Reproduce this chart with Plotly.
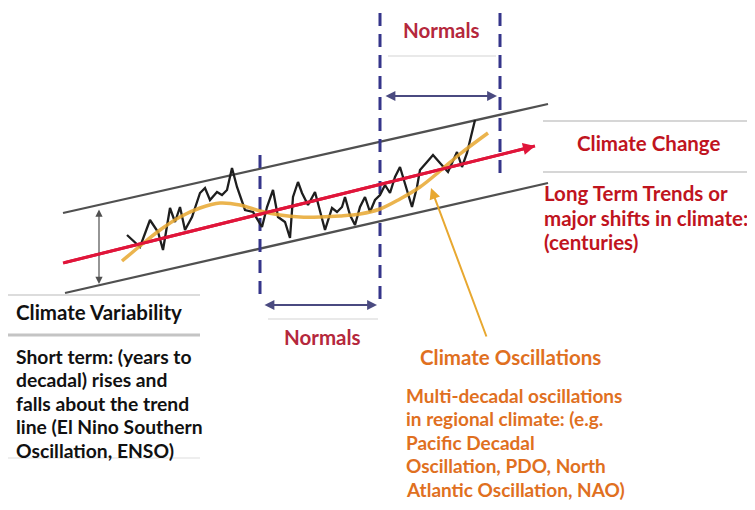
import plotly.graph_objects as go

# ---- data (diagram units: x = time, y = value on the canvas scale, down is lower) ----
obs_x = [127, 140, 150, 158, 163, 170, 175, 180, 185, 192, 200, 205, 210, 217, 222, 227, 232, 237, 245, 253,
         262, 267, 273, 278, 285, 290, 293, 298, 302, 308, 315, 320, 325, 332, 337, 342, 345, 350, 355, 360,
         365, 370, 375, 380, 385, 390, 395, 400, 405, 412, 417, 420, 427, 433, 440, 448, 457, 462, 467, 472, 475]
obs_y = [235, 247, 220, 232, 250, 208, 222, 207, 230, 217, 193, 188, 200, 192, 195, 190, 168, 187, 210, 212,
         227, 207, 190, 217, 222, 238, 197, 182, 193, 205, 192, 210, 230, 208, 212, 207, 197, 215, 225, 207,
         197, 212, 200, 195, 185, 193, 177, 167, 183, 207, 187, 170, 162, 155, 163, 172, 152, 167, 153, 132, 120]

osc_x = [122, 140, 160, 180, 200, 220, 240, 260, 280, 300, 320, 340, 360, 380, 400, 420, 440, 460, 488]
osc_y = [261, 246, 230, 217, 208, 203, 205, 211, 215, 217, 217, 216, 214, 209, 199, 187, 171, 154, 133]

trend_x = [63, 535]
trend_y = [263, 146]

upper_x = [63, 548]
upper_y = [213, 104]
lower_x = [65, 548]
lower_y = [293, 183]

normals_x = [260, 380, 500]

GRAY = "#505050"
BLUE = "#35358a"
RED = "#e0153a"
ORANGE = "#e8a830"
DARKRED = "#b5283c"
CC_RED = "#c0141e"
OR_TXT = "#e0701f"
FONT = "Lato"
OFF = 8  # page body margin compensation

fig = go.Figure()

fig.add_trace(go.Scatter(x=upper_x, y=upper_y, mode="lines", line=dict(color=GRAY, width=2.3), hoverinfo="skip"))
fig.add_trace(go.Scatter(x=lower_x, y=lower_y, mode="lines", line=dict(color=GRAY, width=2.3), hoverinfo="skip"))

fig.add_trace(go.Scatter(x=[normals_x[0]] * 2, y=[155, 302], mode="lines",
                         line=dict(color=BLUE, width=3, dash="13px,8px"), hoverinfo="skip"))
fig.add_trace(go.Scatter(x=[normals_x[1]] * 2, y=[13, 305], mode="lines",
                         line=dict(color=BLUE, width=3, dash="13px,8px"), hoverinfo="skip"))
fig.add_trace(go.Scatter(x=[normals_x[2]] * 2, y=[13, 180], mode="lines",
                         line=dict(color=BLUE, width=3, dash="13px,8px"), hoverinfo="skip"))

fig.add_trace(go.Scatter(x=trend_x, y=trend_y, mode="lines", line=dict(color=RED, width=3), hoverinfo="skip"))
fig.add_trace(go.Scatter(x=obs_x, y=obs_y, mode="lines", line=dict(color="#1e1e1e", width=2.3), hoverinfo="skip"))
fig.add_trace(go.Scatter(x=osc_x, y=osc_y, mode="lines", line=dict(color=ORANGE, width=3.5, shape="spline"),
                         opacity=0.85, hoverinfo="skip"))

shapes = []
def hline(x0, x1, y, color="#d4d4d4", w=1.2):
    shapes.append(dict(type="line", xref="x", yref="y", x0=x0, x1=x1, y0=y, y1=y,
                       line=dict(color=color, width=w)))

hline(0, 755, 5, "#dfe6ef", 1.5)
hline(388, 496, 56)
hline(268, 378, 319)
hline(7, 200, 295, "#d0d0d0", 1.5)
hline(7, 200, 335, "#c4c4c4", 3)
hline(7, 200, 458, "#dddddd", 1.2)
hline(543, 755, 121, "#c8c8c8", 1.5)
hline(543, 755, 172, "#c8c8c8", 1.5)

ann = []
def arrow(x0, y0, x1, y1, color, w, both=False, head=2, size=1.0):
    ann.append(dict(x=x1, y=y1, ax=x0, ay=y0, xref="x", yref="y", axref="x", ayref="y",
                    showarrow=True, arrowhead=head, startarrowhead=head, arrowsize=size, startarrowsize=size,
                    arrowwidth=w, arrowcolor=color, arrowside="end+start" if both else "end", text=""))

arrow(99, 208, 99, 284, GRAY, 1.2, both=True, head=2, size=1.2)
arrow(384, 96, 497, 96, "#4a4a80", 2.2, both=True, head=2, size=0.9)
arrow(263, 305, 377, 305, "#4a4a80", 2.2, both=True, head=2, size=0.9)
arrow(trend_x[0], trend_y[0], trend_x[1], trend_y[1], RED, 3, head=2, size=0.8)
arrow(487, 338, 431, 188, ORANGE, 2, head=2, size=1.1)

def text(x, y, s, color, size, anchor="left"):
    ann.append(dict(x=x, y=y, xref="x", yref="y", text=s, showarrow=False, xanchor=anchor, yanchor="middle",
                    font=dict(family=FONT, size=size, color=color, weight="bold")))

text(441, 30, "Normals", DARKRED, 20.5, "center")
text(322, 337, "Normals", DARKRED, 20.5, "center")
text(648, 143, "Climate Change", CC_RED, 20.5, "center")
for i, s in enumerate(["Long Term Trends or", "major shifts in climate:", "(centuries)"]):
    text(542, 193 + i * 24.5, s, CC_RED, 20.5)
text(14, 312, "Climate Variability", "#111111", 20.5)
for i, s in enumerate(["Short term: (years to", "decadal) rises and", "falls about the trend",
                       "line (El Nino Southern", "Oscillation, ENSO)"]):
    text(14, 356 + i * 23.5, s, "#111111", 19.3)
text(510, 357, "Climate Oscillations", OR_TXT, 20.5, "center")
for i, s in enumerate(["Multi-decadal oscillations", "in regional climate: (e.g.", "Pacific Decadal",
                       "Oscillation, PDO, North", "Atlantic Oscillation, NAO)"]):
    text(404, 395 + i * 23.5, s, OR_TXT, 19)

fig.update_layout(
    width=755, height=510, margin=dict(l=0, r=0, t=0, b=0),
    paper_bgcolor="white", plot_bgcolor="white", showlegend=False,
    xaxis=dict(range=[OFF, 755 + OFF], visible=False, fixedrange=True),
    yaxis=dict(range=[510 + OFF, OFF], visible=False, fixedrange=True),
    shapes=shapes, annotations=ann,
)

fig.write_html("out.html")
